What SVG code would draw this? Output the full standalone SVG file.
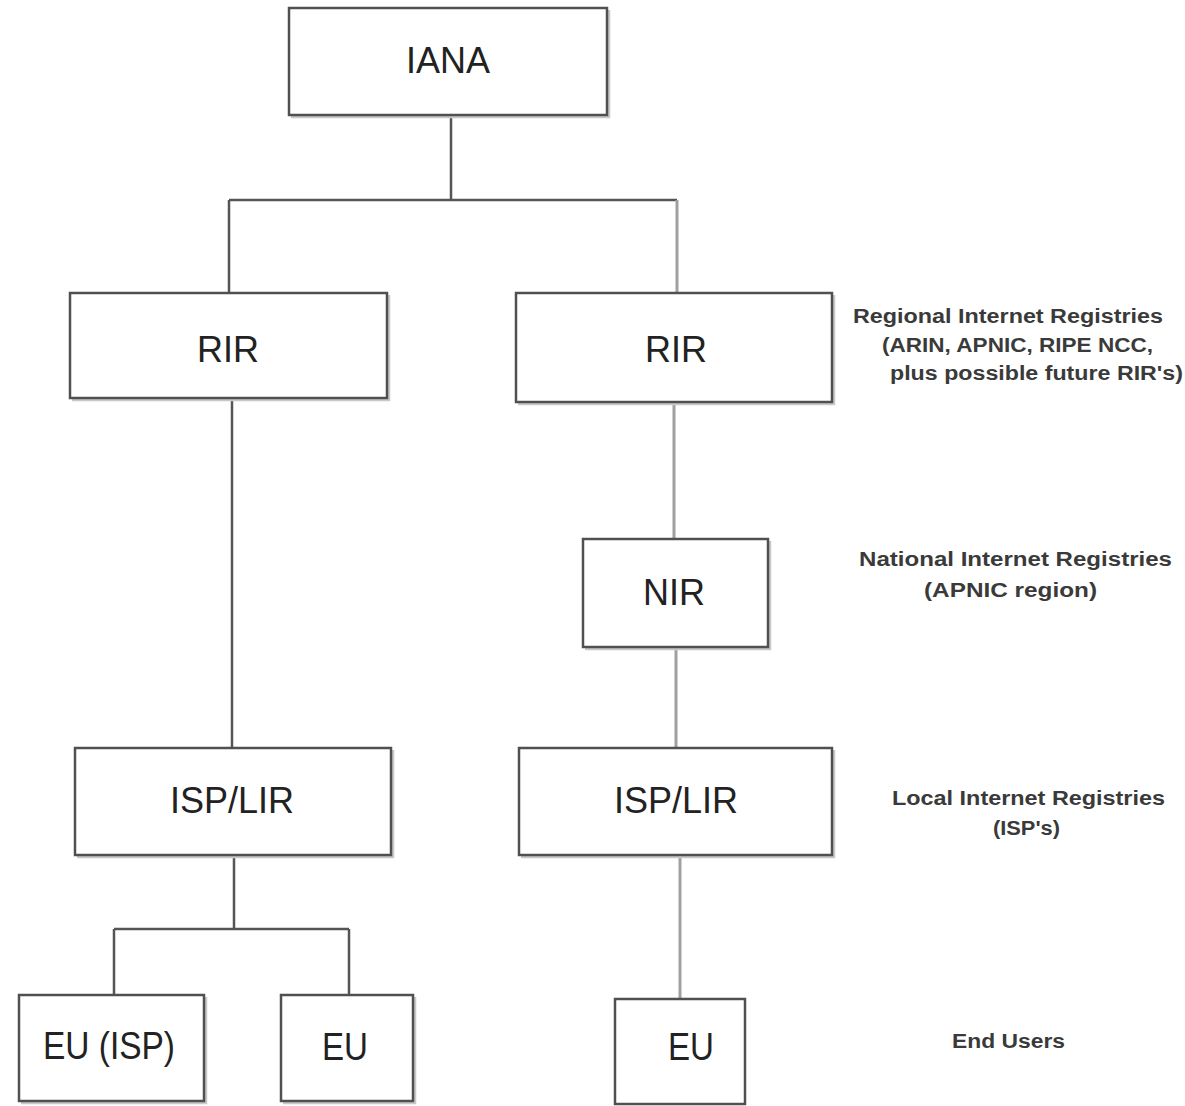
<svg xmlns="http://www.w3.org/2000/svg" width="1185" height="1106" viewBox="0 0 1185 1106">
  <style>
    .box { fill: #ffffff; stroke: #505050; stroke-width: 2.5; }
    .shadow { fill: none; stroke: #c8c8c8; stroke-width: 2.5; }
    .lbl { font-family: "Liberation Sans", Arial, sans-serif; font-size: 36px; fill: #222222; text-anchor: middle; }
    .lbl-eu { font-size: 39px; }
    .note { font-family: "Liberation Sans", Arial, sans-serif; font-size: 20px; font-weight: bold; fill: #3a3a3a; }
    .dark { stroke: #555555; stroke-width: 2.5; fill: none; }
    .light { stroke: #a0a0a0; stroke-width: 3; fill: none; }
  </style>
  <rect width="1185" height="1106" fill="#ffffff"/>

  <!-- connectors -->
  <g id="connectors">
    <path class="dark" d="M451 115 V200 M229 200 H677 M229 200 V293"/>
    <path class="light" d="M677 200 V293"/>
    <path class="dark" d="M232 398 V748"/>
    <path class="light" d="M674 402 V539 M676 647 V748"/>
    <path class="dark" d="M234 855 V929 M114 929 H349 M114 929 V995 M349 929 V995"/>
    <path class="light" d="M680 855 V999"/>
  </g>

  <g id="iana">
    <path class="shadow" d="M291 117 H609 V10"/>
    <rect class="box" x="289" y="8" width="318" height="107"/>
    <text class="lbl" x="448" y="73">IANA</text>
  </g>

  <g id="rir-left">
    <path class="shadow" d="M72 400 H389 V295"/>
    <rect class="box" x="70" y="293" width="317" height="105"/>
    <text class="lbl" x="228" y="362">RIR</text>
  </g>

  <g id="rir-right">
    <path class="shadow" d="M518 404 H834 V295"/>
    <rect class="box" x="516" y="293" width="316" height="109"/>
    <text class="lbl" x="676" y="362">RIR</text>
  </g>

  <g id="nir">
    <path class="shadow" d="M585 649 H770 V541"/>
    <rect class="box" x="583" y="539" width="185" height="108"/>
    <text class="lbl" x="674" y="605">NIR</text>
  </g>

  <g id="isp-lir-left">
    <path class="shadow" d="M77 857 H393 V750"/>
    <rect class="box" x="75" y="748" width="316" height="107"/>
    <text class="lbl" x="232" y="813">ISP/LIR</text>
  </g>

  <g id="isp-lir-right">
    <path class="shadow" d="M521 857 H834 V750"/>
    <rect class="box" x="519" y="748" width="313" height="107"/>
    <text class="lbl" x="676" y="813">ISP/LIR</text>
  </g>

  <g id="eu-isp">
    <path class="shadow" d="M21 1103 H206 V997"/>
    <rect class="box" x="19" y="995" width="185" height="106"/>
    <text class="lbl lbl-eu" x="109" y="1059" textLength="132" lengthAdjust="spacingAndGlyphs">EU (ISP)</text>
  </g>

  <g id="eu-left">
    <path class="shadow" d="M283 1103 H415 V997"/>
    <rect class="box" x="281" y="995" width="132" height="106"/>
    <text class="lbl lbl-eu" x="345" y="1060" textLength="46" lengthAdjust="spacingAndGlyphs">EU</text>
  </g>

  <g id="eu-right">
    <rect class="box" x="615" y="999" width="130" height="105"/>
    <text class="lbl lbl-eu" x="691" y="1060" textLength="46" lengthAdjust="spacingAndGlyphs">EU</text>
  </g>

  <!-- level notes -->
  <g id="note-rir">
    <text class="note" x="853" y="323" textLength="310" lengthAdjust="spacingAndGlyphs">Regional Internet Registries</text>
    <text class="note" x="882" y="352" textLength="271" lengthAdjust="spacingAndGlyphs">(ARIN, APNIC, RIPE NCC,</text>
    <text class="note" x="890" y="380" textLength="293" lengthAdjust="spacingAndGlyphs">plus possible future RIR's)</text>
  </g>
  <g id="note-nir">
    <text class="note" x="859" y="566" textLength="313" lengthAdjust="spacingAndGlyphs">National Internet Registries</text>
    <text class="note" x="924" y="597" textLength="173" lengthAdjust="spacingAndGlyphs">(APNIC region)</text>
  </g>
  <g id="note-lir">
    <text class="note" x="892" y="805" textLength="273" lengthAdjust="spacingAndGlyphs">Local Internet Registries</text>
    <text class="note" x="993" y="835" textLength="67" lengthAdjust="spacingAndGlyphs">(ISP's)</text>
  </g>
  <g id="note-eu">
    <text class="note" x="952" y="1048" textLength="113" lengthAdjust="spacingAndGlyphs">End Users</text>
  </g>
</svg>
